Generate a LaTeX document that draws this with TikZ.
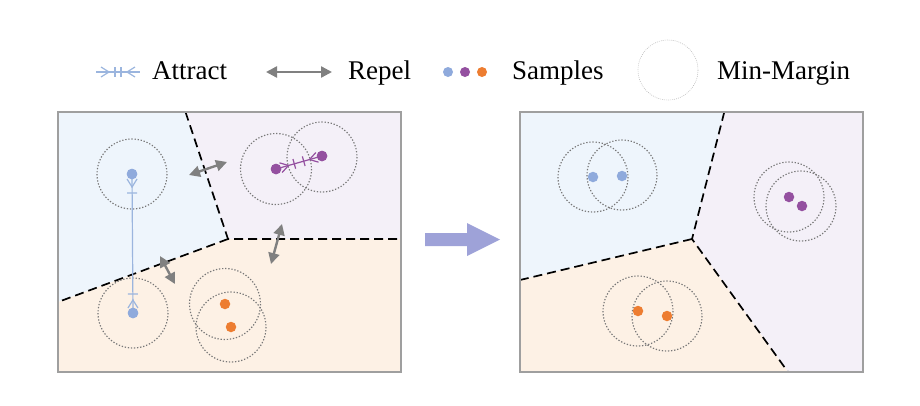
\documentclass[tikz,border=0pt]{standalone}
\usepackage{fontspec}
\setmainfont{Liberation Serif}
\usetikzlibrary{arrows.meta,calc}
\definecolor{bluebg}{HTML}{EEF5FC}
\definecolor{purpbg}{HTML}{F4F0F8}
\definecolor{orbg}{HTML}{FDF1E5}
\definecolor{sblue}{HTML}{8FAADC}
\definecolor{spurp}{HTML}{9450A0}
\definecolor{sorange}{HTML}{ED7D31}
\definecolor{repelc}{HTML}{808080}
\definecolor{bigarrowc}{HTML}{9EA2D8}
\definecolor{attrblue}{HTML}{9BB5DE}
\definecolor{margc}{HTML}{777777}
\newcommand\attractline[3]{%
  \draw[attrln,#1] (#2.center) -- (#3.center);
  \foreach \ee/\oo in {#2/#3,#3/#2}{
    \draw[attrln,#1] ($(\ee.center)!5pt!(\oo.center)!5pt!90:(\oo.center)$) -- ($(\ee.center)!13pt!(\oo.center)$) -- ($(\ee.center)!5pt!(\oo.center)!5pt!-90:(\oo.center)$);
    \draw[attrln,#1] ($(\ee.center)!19pt!(\oo.center)!5pt!90:(\oo.center)$) -- ($(\ee.center)!19pt!(\oo.center)!5pt!-90:(\oo.center)$);
  }}
\begin{document}
\begin{tikzpicture}[x=1pt,y=-1pt,
  dot/.style={circle,fill=#1,inner sep=0pt,minimum size=10.5pt},
  margin/.style={draw=margc,line width=1.15pt,dash pattern=on 1.3pt off 1.8pt},
  panel/.style={draw=gray!75,line width=1.2pt},
  bound/.style={draw=black,line width=1.7pt,dash pattern=on 9pt off 5pt},
  repel/.style={draw=repelc,line width=2.4pt,{Triangle[length=11pt,width=11pt]}-{Triangle[length=11pt,width=11pt]}},
  attrln/.style={line width=1.2pt},
  lbl/.style={font=\fontsize{27}{30}\selectfont,anchor=base west,inner sep=0pt}
]
\useasboundingbox (0,0) rectangle (920,405);

% ---------- legend ----------
\coordinate (la1) at (96,72);
\coordinate (la2) at (140,72);
\attractline{attrblue}{la1}{la2}
\node[lbl] (tattr) at (152,79) {Attract};
\coordinate (lr1) at (266,72);
\coordinate (lr2) at (332,72);
\draw[repel] (lr1) -- (lr2);
\node[lbl] (trep) at (348,79) {Repel};
\node[dot=sblue,minimum size=10pt] (ld1) at (448,72) {};
\node[dot=spurp,minimum size=10pt] (ld2) at (465,72) {};
\node[dot=sorange,minimum size=10pt] (ld3) at (482,72) {};
\node[lbl] (tsam) at (512,79) {Samples};
\draw[draw=gray!55,line width=0.6pt,dash pattern=on 0.8pt off 1.2pt] (668,70) circle (30);
\node[lbl] (tmm) at (717,79) {Min-Margin};

% ---------- left panel ----------
\coordinate (LT) at (185.5,112);
\coordinate (LJ) at (228,239);
\coordinate (LR) at (401,239);
\coordinate (LL) at (58,302);
\fill[bluebg] (58,112) -- (LT) -- (LJ) -- (LL) -- cycle;
\fill[purpbg] (LT) -- (401,112) -- (LR) -- (LJ) -- cycle;
\fill[orbg] (LL) -- (LJ) -- (LR) -- (401,372) -- (58,372) -- cycle;
\draw[bound] (LT) -- (LJ) -- (LR);
\draw[bound] (LJ) -- (LL);
\draw[panel] (58,112) rectangle (401,372);

\draw[margin] (132,174) circle (35);
\draw[margin] (133,313) circle (35);
\draw[margin] (276,169) circle (35.5);
\draw[margin] (322,157) circle (35);
\draw[margin] (225,304) circle (35.5);
\draw[margin] (231,327) circle (35);

\coordinate (r1a) at (189,175);
\coordinate (r1b) at (227,162);
\draw[repel] (r1a) -- (r1b);
\coordinate (r2a) at (160,256);
\coordinate (r2b) at (175,284);
\draw[repel] (r2a) -- (r2b);
\coordinate (r3a) at (282,224);
\coordinate (r3b) at (271,264);
\draw[repel] (r3a) -- (r3b);

\node[dot=sblue] (b1) at (132,174) {};
\node[dot=sblue] (b2) at (133,313) {};
\attractline{attrblue}{b1}{b2}
\node[dot=sblue] at (b1) {};
\node[dot=sblue] at (b2) {};
\node[dot=spurp] (p1) at (276,169) {};
\node[dot=spurp] (p2) at (322,156) {};
\attractline{spurp}{p1}{p2}
\node[dot=spurp] at (p1) {};
\node[dot=spurp] at (p2) {};
\node[dot=sorange] (o1) at (225,304) {};
\node[dot=sorange] (o2) at (231,327) {};

% ---------- big arrow ----------
\fill[bigarrowc] (425,233) -- (467,233) -- (467,223) -- (500,239.5) -- (467,256) -- (467,246) -- (425,246) -- cycle;

% ---------- right panel ----------
\coordinate (RT) at (724.3,112);
\coordinate (RJ) at (692,239);
\coordinate (RL) at (520,280);
\coordinate (RB) at (788,372);
\fill[bluebg] (520,112) -- (RT) -- (RJ) -- (RL) -- cycle;
\fill[purpbg] (RT) -- (863,112) -- (863,372) -- (RB) -- (RJ) -- cycle;
\fill[orbg] (RL) -- (RJ) -- (RB) -- (520,372) -- cycle;
\draw[bound] (RT) -- (RJ) -- (RB);
\draw[bound] (RJ) -- (RL);
\draw[panel] (520,112) rectangle (863,372);

\draw[margin] (593,177) circle (35);
\draw[margin] (622,175) circle (35);
\draw[margin] (638,311) circle (35);
\draw[margin] (667,316) circle (35);
\draw[margin] (789,197) circle (35);
\draw[margin] (801,206) circle (35);

\node[dot=sblue] (rb1) at (593,177) {};
\node[dot=sblue] (rb2) at (622,176) {};
\node[dot=sorange] (ro1) at (638,311) {};
\node[dot=sorange] (ro2) at (667,316) {};
\node[dot=spurp] (rp1) at (789,197) {};
\node[dot=spurp] (rp2) at (802,206) {};
\end{tikzpicture}
\end{document}
